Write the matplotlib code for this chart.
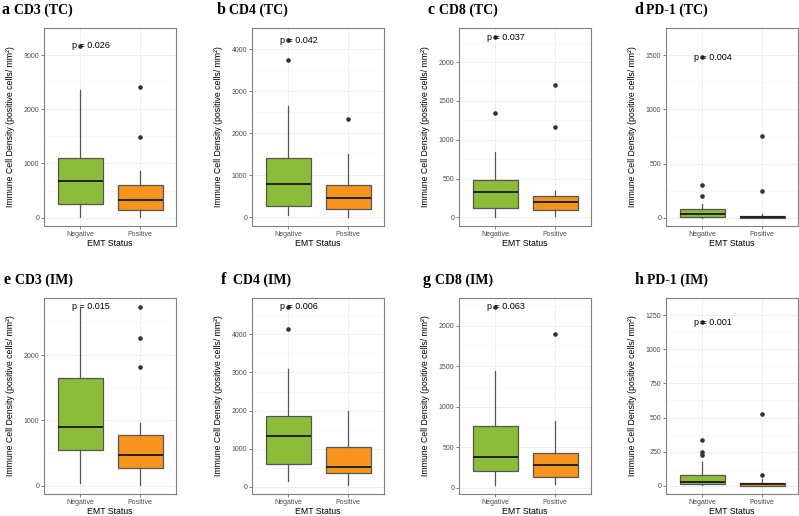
import numpy as np
import matplotlib
matplotlib.use('Agg')
import matplotlib.pyplot as plt

# Datos de los paneles
letras = ['a', 'b', 'c', 'd', 'e', 'f', 'g', 'h']
titulos = ['CD3 (TC)', 'CD4 (TC)', 'CD8 (TC)', 'PD-1 (TC)',
           'CD3 (IM)', 'CD4 (IM)', 'CD8 (IM)', 'PD-1 (IM)']
etiquetas_p = ['p = 0.026', 'p = 0.042', 'p = 0.037', 'p = 0.004',
               'p = 0.015', 'p = 0.006', 'p = 0.063', 'p = 0.001']
categorias = ['Negative', 'Positive']

# [bigote inferior, Q1, mediana, Q3, bigote superior]
neg_stats = [[20, 260, 680, 1100, 2350],
             [40, 266, 797, 1398, 2633],
             [5, 125, 323, 483, 845],
             [3, 11, 38, 82, 132],
             [36, 543, 898, 1650, 2716],
             [148, 591, 1322, 1852, 3087],
             [33, 204, 380, 761, 1444],
             [4, 11, 29, 82, 171]]
neg_outliers = [[3170], [3742, 4203], [1345, 2323], [198, 308, 1481],
                [], [4139, 4722], [2233], [223, 245, 334, 1198]]

pos_stats = [[5, 135, 335, 606, 860],
             [0, 195, 453, 773, 1500],
             [20, 99, 203, 276, 345],
             [0, 3, 11, 22, 38],
             [10, 269, 472, 777, 964],
             [43, 365, 530, 1043, 2000],
             [41, 135, 286, 429, 830],
             [0, 2, 16, 22, 51]]
pos_outliers = [[1482, 2418], [2344], [1164, 1703], [245, 753],
                [1817, 2254, 2736], [], [1902], [80, 528]]

# Posicion del texto p (valor maximo de cada panel)
y_texto_p = [3170, 4203, 2323, 1481, 2736, 4722, 2233, 1198]

marcas_y = [[0, 1000, 2000, 3000], [0, 1000, 2000, 3000, 4000],
            [0, 500, 1000, 1500, 2000], [0, 500, 1000, 1500],
            [0, 1000, 2000], [0, 1000, 2000, 3000, 4000],
            [0, 500, 1000, 1500, 2000], [0, 250, 500, 750, 1000, 1250]]

colores = ['#8DBB3A', '#F7941E']

W, H = 799, 516
fig = plt.figure(figsize=(W / 100, H / 100), dpi=100)
plt.rcParams['font.family'] = ['Liberation Sans', 'DejaVu Sans']

izq_px = [44, 252, 459, 666]
ancho_px = 132
filas = [(28, 226), (298, 494)]
titulo_x_px = [[2, 217, 427, 634], [3, 221, 423, 635]]
titulo_y_px = [10, 280]

for i in range(8):
    fila, col = divmod(i, 4)
    top, bot = filas[fila]
    ax = fig.add_axes([izq_px[col] / W, 1 - bot / H, ancho_px / W, (bot - top) / H])

    stats = []
    for s, fl in ((neg_stats[i], neg_outliers[i]), (pos_stats[i], pos_outliers[i])):
        stats.append({'whislo': s[0], 'q1': s[1], 'med': s[2], 'q3': s[3],
                      'whishi': s[4], 'fliers': fl})
    bp = ax.bxp(stats, positions=[1, 2], widths=0.75, patch_artist=True,
                showcaps=False,
                boxprops=dict(edgecolor='#555555', linewidth=0.9),
                whiskerprops=dict(color='#555555', linewidth=0.9),
                medianprops=dict(color='#222222', linewidth=1.4),
                flierprops=dict(marker='o', markerfacecolor='#333333',
                                markeredgecolor='#333333', markersize=2.3))
    for caja, c in zip(bp['boxes'], colores):
        caja.set_facecolor(c)
        caja.set_zorder(2)

    todos = neg_stats[i] + pos_stats[i] + neg_outliers[i] + pos_outliers[i] + [y_texto_p[i]]
    ymin, ymax = min(todos), max(todos)
    rango = ymax - ymin
    ax.set_ylim(ymin - 0.05 * rango, ymax + 0.05 * rango)
    ax.set_xlim(0.4, 2.6)

    ticks = marcas_y[i]
    ax.set_yticks(ticks)
    ax.set_yticks([(a + b) / 2 for a, b in zip(ticks[:-1], ticks[1:])] +
                  [ticks[-1] + (ticks[1] - ticks[0]) / 2], minor=True)
    ax.set_xticks([1, 2])
    ax.set_xticklabels(categorias)
    ax.tick_params(axis='both', which='major', labelsize=5, colors='#4D4D4D',
                   length=2, width=0.5, pad=1.5)
    ax.tick_params(axis='y', which='minor', length=0)
    ax.grid(True, which='major', color='#EBEBEB', linewidth=0.6, zorder=0)
    ax.grid(True, which='minor', axis='y', color='#F3F3F3', linewidth=0.4, zorder=0)
    ax.set_axisbelow(True)
    for sp in ax.spines.values():
        sp.set_color('#808080')
        sp.set_linewidth(0.8)

    ax.set_xlabel('EMT Status', fontsize=6.3, labelpad=1)
    ax.set_ylabel('Immune Cell Density (positive cells/ mm²)', fontsize=6.3)
    ax.yaxis.set_label_coords(-(29 / ancho_px), 0.5)

    ax.annotate(etiquetas_p[i], xy=(1, y_texto_p[i]), xytext=(-5.6, 0),
                textcoords='offset points', ha='left', va='center',
                fontsize=6.5, color='black')

    tx = titulo_x_px[fila][col] / W
    ty = 1 - titulo_y_px[fila] / H
    fig.text(tx, ty, letras[i], fontsize=11.5, fontweight='bold',
             family='Liberation Serif', va='center', ha='left')
    fig.text(tx + 12 / W, ty, titulos[i], fontsize=10, fontweight='bold',
             family='Liberation Serif', va='center', ha='left')

fig.savefig('out.png', dpi=100)
